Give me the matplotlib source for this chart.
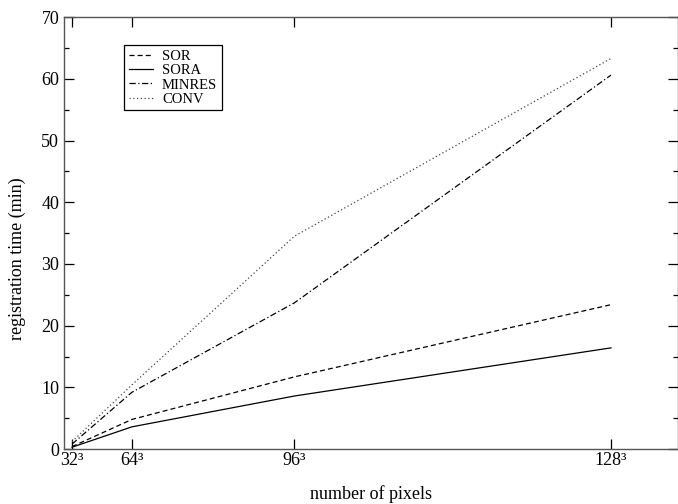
import matplotlib
matplotlib.use("Agg")
import matplotlib.pyplot as plt
from matplotlib.ticker import MultipleLocator

plt.rcParams['font.family'] = ['Liberation Serif', 'DejaVu Serif']

# Data (grid size n, volume n^3)
sizes = [32, 64, 96, 128]
tick_labels = ["32³", "64³", "96³", "128³"]
sor = [0.4, 4.8, 11.7, 23.4]
sora = [0.3, 3.6, 8.6, 16.4]
minres = [0.8, 9.2, 23.7, 60.6]
conv = [1.2, 10.4, 34.5, 63.3]

x = [n ** 3 for n in sizes]

fig = plt.figure(figsize=(6.78, 5.04), dpi=100)
ax = fig.add_axes([0.0944, 0.109, 0.9056, 0.857])

ax.plot(x, sor, color="black", linestyle=(0, (4, 2.5)), linewidth=0.9, label="SOR")
ax.plot(x, sora, color="black", linestyle="-", linewidth=0.9, label="SORA")
ax.plot(x, minres, color="black", linestyle=(0, (5, 2, 1, 2)), linewidth=0.9, label="MINRES")
ax.plot(x, conv, color="#444444", linestyle=(0, (1, 2)), linewidth=0.9, label="CONV")

ax.set_xlim(2100, 2354000)
ax.set_ylim(0, 70)
ax.set_xticks(x)
ax.set_xticklabels(tick_labels)
ax.yaxis.set_major_locator(MultipleLocator(10))
ax.yaxis.set_minor_locator(MultipleLocator(5))

ax.tick_params(which="both", direction="in", top=True, right=True, labelsize=13)
ax.tick_params(which="major", length=7.2, width=0.9)
ax.tick_params(which="minor", length=3.6, width=0.9)
ax.tick_params(axis="x", pad=2)
for s in ax.spines.values():
    s.set_color("#555555")
    s.set_linewidth(1.0)

ax.set_xlabel("number of pixels", fontsize=13, labelpad=12)
ax.set_ylabel("registration time (min)", fontsize=13)
ax.yaxis.set_label_coords(-0.062, 0.44)

leg = ax.legend(loc="upper left", bbox_to_anchor=(0.098, 0.935), borderaxespad=0,
                fontsize=10.5, handlelength=1.7, handletextpad=0.6, borderpad=0.3,
                labelspacing=0.08, fancybox=False, framealpha=1)
leg.get_frame().set_edgecolor("black")
leg.get_frame().set_linewidth(0.9)

plt.savefig("out.png", dpi=100)
